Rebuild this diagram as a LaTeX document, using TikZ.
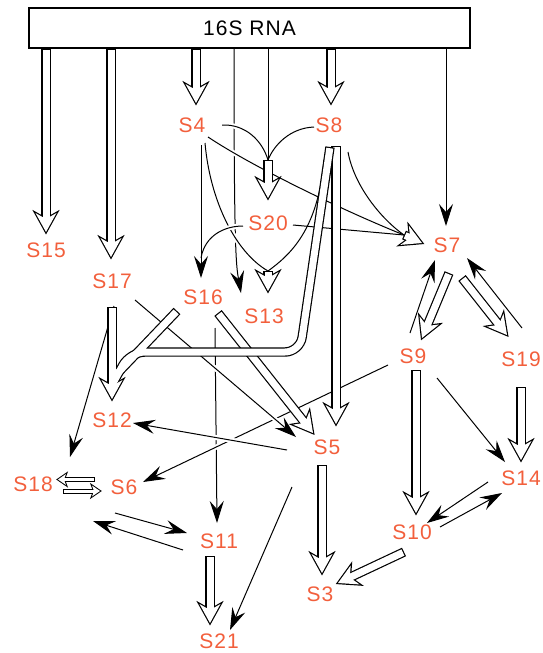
\documentclass[tikz,border=0pt]{standalone}
\usepackage{fontspec}
\setmainfont{Liberation Sans}[LetterSpace=5]
\usetikzlibrary{calc,arrows.meta}
\definecolor{labelRed}{RGB}{242,95,60}

% open arrow head, tip at #2, coming from #1
\newcommand{\openhead}[2]{(#2) -- ($(#2)!19pt!(#1)!10.5pt!90:(#1)$) -- ($(#2)!15pt!(#1)!3.5pt!90:(#1)$) -- ($(#2)!15pt!(#1)!3.5pt!-90:(#1)$) -- ($(#2)!19pt!(#1)!10.5pt!-90:(#1)$) -- cycle}
\newcommand{\openheadsmall}[2]{(#2) -- ($(#2)!8pt!(#1)!5.5pt!90:(#1)$) -- ($(#2)!6.5pt!(#1)!1.5pt!90:(#1)$) -- ($(#2)!6.5pt!(#1)!1.5pt!-90:(#1)$) -- ($(#2)!8pt!(#1)!5.5pt!-90:(#1)$) -- cycle}

\begin{document}
\begin{tikzpicture}[x=1pt, y=-1pt,
  lbl/.style={text=labelRed, inner sep=0pt, font=\fontsize{21}{25}\selectfont},
  link/.style={line width=1pt, -{Stealth[length=22pt, width=14pt, inset=8pt]}},
  plainline/.style={line width=1pt},
  hop/.style={preaction={draw=white, line width=5pt, -}},
  shaftout/.style={line width=9.4pt},
  shaftin/.style={white, line width=7pt, shorten <=1.2pt},
  headout/.style={line width=2.4pt},
  shaftouts/.style={line width=5pt},
  shaftins/.style={white, line width=3pt, shorten <=1pt},
  headouts/.style={line width=2pt}]
\useasboundingbox (0,0) rectangle (543,653);

\node[draw, line width=1.2pt, minimum width=441pt, minimum height=40pt, inner sep=0pt,
  font=\fontsize{21}{25}\selectfont] (rna) at (249.5,28) {16S RNA};

% proteins
\node[lbl] (s4) at (192,125) {S4};
\node[lbl] (s8) at (329,125) {S8};
\node[lbl] (s15) at (46,250) {S15};
\node[lbl] (s17) at (112,281) {S17};
\node[lbl] (s20) at (268,223) {S20};
\node[lbl] (s7) at (447,245) {S7};
\node[lbl] (s16) at (203,297) {S16};
\node[lbl] (s13) at (264,316) {S13};
\node[lbl] (s9) at (413,356) {S9};
\node[lbl] (s19) at (521,359) {S19};
\node[lbl] (s12) at (112,420) {S12};
\node[lbl] (s5) at (327,447) {S5};
\node[lbl] (s18) at (33,484) {S18};
\node[lbl] (s6) at (124,487) {S6};
\node[lbl] (s14) at (521,478) {S14};
\node[lbl] (s11) at (219,541) {S11};
\node[lbl] (s10) at (412,532) {S10};
\node[lbl] (s3) at (320,594) {S3};
\node[lbl] (s21) at (219,641) {S21};

% ends of the open arrows
\coordinate (t15) at (46,232);
\coordinate (t17) at (111,257);
\coordinate (t4) at (196,103);
\coordinate (t8) at (331,103);
\coordinate (j20) at (268,160);
\coordinate (t20) at (268,198);
\coordinate (j13) at (268,271);
\coordinate (t13) at (268,291);
\coordinate (j7) at (404,235);
\coordinate (t7) at (422,243);
\coordinate (o8a) at (336,146);
\coordinate (t5a) at (336,424);
\coordinate (o8b) at (330,147);
\coordinate (k1) at (300,352);
\coordinate (k2) at (130,352);
\coordinate (k3) at (112,385);
\coordinate (o17) at (112,307);
\coordinate (t12) at (112,399);
\coordinate (o16a) at (177,311);
\coordinate (k4) at (113,378);
\coordinate (o16b) at (218,313);
\coordinate (t5b) at (313,433);
\coordinate (o5) at (322,465);
\coordinate (t3a) at (322,573);
\coordinate (o10) at (404,552);
\coordinate (t3b) at (338,583);
\coordinate (o11) at (210,556);
\coordinate (t21) at (210,623);
\coordinate (o9) at (416,370);
\coordinate (t10) at (416,513);
\coordinate (o19) at (521,387);
\coordinate (t14) at (521,460);
\coordinate (o7a) at (449,273);
\coordinate (t9) at (422,338);
\coordinate (o7b) at (462,278);
\coordinate (t19) at (507,335);
\coordinate (o6) at (95,479.5);
\coordinate (t18) at (58,479.5);
\coordinate (o18) at (63,491);
\coordinate (t6) at (100,491);
\coordinate (r15) at (rna.south -| t15);
\coordinate (r17) at (rna.south -| t17);
\coordinate (r4) at (rna.south -| t4);
\coordinate (r8) at (rna.south -| t8);
\coordinate (r20) at (rna.south -| j20);

% ends of the plain lines
\coordinate (r13) at (234,48);
\coordinate (u13) at (241,293);
\coordinate (r7) at (446,48);
\coordinate (u7) at (446,226);
\coordinate (a4j20) at (222,125);
\coordinate (a8j20) at (314,127);
\coordinate (a4j7) at (208,137);
\coordinate (a4j13) at (205,143);
\coordinate (a4s16) at (201,145);
\coordinate (u16) at (201,278);
\coordinate (a8j13) at (324,160);
\coordinate (a8j7) at (348,152);
\coordinate (a20j7) at (293,225);
\coordinate (a20s16) at (243,226);
\coordinate (m16) at (201,258);
\coordinate (a17s5) at (135,300);
\coordinate (u5) at (296,437);
\coordinate (a17s18) at (114,306);
\coordinate (u18a) at (70,457);
\coordinate (a16s11) at (215,328);
\coordinate (u11a) at (217,523);
\coordinate (a9s6) at (388,365);
\coordinate (u6) at (143,482);
\coordinate (a5s12) at (287,450);
\coordinate (u12) at (133,423);
\coordinate (a5s21) at (292,487);
\coordinate (u21) at (230,630);
\coordinate (a18s11) at (115,513);
\coordinate (u11b) at (187,533);
\coordinate (a11s18) at (183,550);
\coordinate (u18b) at (93,521);
\coordinate (a14s10) at (488,482);
\coordinate (u10) at (427,523);
\coordinate (a10s14) at (440,527);
\coordinate (u14a) at (502,493);
\coordinate (a9s14) at (437,378);
\coordinate (u14b) at (505,462);
\coordinate (a9s7) at (410,333);
\coordinate (u7a) at (435,260);
\coordinate (a19s7) at (522,328);
\coordinate (u7b) at (467,258);

% plain lines, the ones crossed first
\draw[link] (r13) .. controls (234,250) and (236,265) .. (u13);
\draw[link] (a16s11) -- (u11a);
\draw[plainline, hop] (a4j20) .. controls (245,124) and (262,140) .. (j20);
\draw[plainline] (a8j20) .. controls (290,128) and (274,145) .. (j20);
\draw[plainline] (r20) -- (j20);
\draw[plainline, hop] (a4j7) .. controls (253,167) and (344,211) .. (j7);
\draw[plainline] (a20j7) -- (j7);
\draw[plainline] (a8j7) .. controls (354,185) and (380,218) .. (j7);
\draw[plainline, hop] (a4j13) .. controls (210,200) and (235,252) .. (j13);
\draw[plainline] (a8j13) .. controls (318,230) and (290,255) .. (j13);
\draw[plainline, hop] (a20s16) .. controls (225,226) and (205,235) .. (m16);
\draw[link] (a4s16) -- (u16);
\draw[link] (r7) -- (u7);
\draw[link, hop] (a9s6) -- (u6);
\draw[link, hop] (a17s5) -- (u5);
\draw[link, hop] (a5s12) -- (u12);
\draw[link] (a17s18) -- (u18a);
\draw[link] (a5s21) -- (u21);
\draw[link] (a18s11) -- (u11b);
\draw[link] (a11s18) -- (u18b);
\draw[link] (a14s10) -- (u10);
\draw[link] (a10s14) -- (u14a);
\draw[link] (a9s14) -- (u14b);
\draw[link] (a9s7) -- (u7a);
\draw[link] (a19s7) -- (u7b);

% open arrows
\def\openlist{r15/t15, r17/t17, r4/t4, r8/t8, j20/t20, j13/t13, j7/t7, o8a/t5a, o16b/t5b,
  o5/t3a, o10/t3b, o11/t21, o9/t10, o19/t14, o7a/t9, o7b/t19}
\foreach \a/\b in \openlist {
  \draw[shaftout] (\a) -- ($(\b)!14pt!(\a)$);
  \draw[headout] \openhead{\a}{\b};
}
\foreach \a/\b in \openlist {
  \draw[shaftin] (\a) -- ($(\b)!14pt!(\a)$);
  \fill[white] \openhead{\a}{\b};
}

% three open arrows into S12 share one head
\draw[shaftout, rounded corners=15pt] (o8b) -- (k1) -- (k2) -- (k3);
\draw[shaftout] (o16a) -- (k4);
\draw[shaftout] (o17) -- ($(t12)!14pt!(o17)$);
\draw[headout] \openhead{o17}{t12};
\draw[shaftin, rounded corners=15pt] (o8b) -- (k1) -- (k2) -- (k3);
\draw[shaftin] (o16a) -- (k4);
\draw[shaftin] (o17) -- ($(t12)!14pt!(o17)$);
\fill[white] \openhead{o17}{t12};

% S18 and S6
\foreach \a/\b in {o6/t18, o18/t6} {
  \draw[shaftouts] (\a) -- ($(\b)!6pt!(\a)$);
  \draw[headouts] \openheadsmall{\a}{\b};
  \draw[shaftins] (\a) -- ($(\b)!6pt!(\a)$);
  \fill[white] \openheadsmall{\a}{\b};
}
\end{tikzpicture}
\end{document}
